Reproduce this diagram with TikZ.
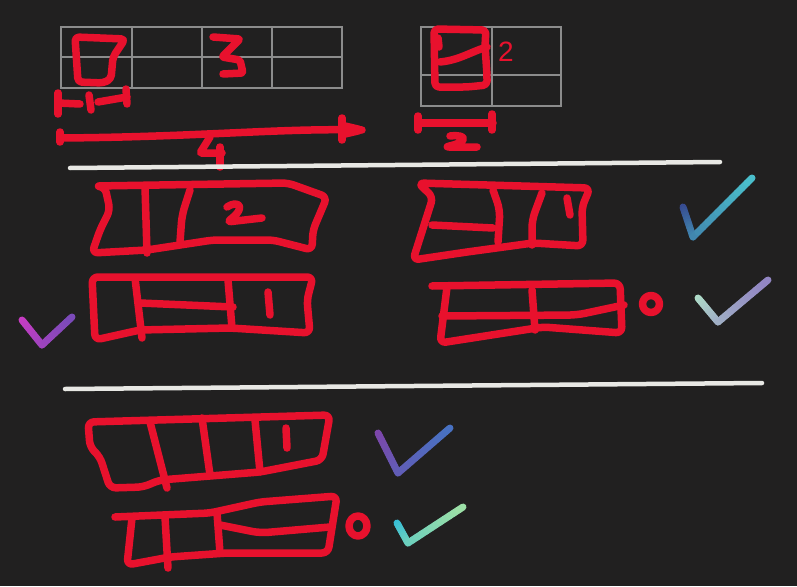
\documentclass[tikz,border=0pt]{standalone}
\usepackage{fontspec}
\setmainfont{Liberation Sans}
\usetikzlibrary{calc}
\definecolor{bg}{RGB}{33,32,32}
\definecolor{pen}{RGB}{232,17,45}
\definecolor{gridc}{RGB}{140,140,140}
\definecolor{chalk}{RGB}{232,232,228}
\definecolor{ca1}{RGB}{55,75,145}
\definecolor{ca2}{RGB}{75,195,205}
\definecolor{cb1}{RGB}{175,220,200}
\definecolor{cb2}{RGB}{145,130,195}
\definecolor{cc1}{RGB}{200,60,195}
\definecolor{cc2}{RGB}{120,75,185}
\definecolor{cd1}{RGB}{125,70,170}
\definecolor{cd2}{RGB}{70,115,195}
\definecolor{ce1}{RGB}{55,190,215}
\definecolor{ce2}{RGB}{160,225,165}
\newcommand\gradchk[5]{%
  \foreach \i in {0,...,11}{%
    \pgfmathsetmacro\ta{\i/12}%
    \pgfmathsetmacro\tb{(\i+1)/12}%
    \pgfmathtruncatemacro\pc{100-\i*50/12}%
    \draw[chk,draw=#4!\pc!#5] ($(#1)!\ta!(#2)$)--($(#1)!\tb!(#2)$);}%
  \foreach \i in {0,...,11}{%
    \pgfmathsetmacro\ta{\i/12}%
    \pgfmathsetmacro\tb{(\i+1)/12}%
    \pgfmathtruncatemacro\pc{50-\i*50/12}%
    \draw[chk,draw=#4!\pc!#5] ($(#2)!\ta!(#3)$)--($(#2)!\tb!(#3)$);}%
}
\begin{document}
\begin{tikzpicture}[x=1pt,y=-1pt,
  hand/.style={draw=pen,line width=7.5pt,line cap=round,line join=round,rounded corners=4pt},
  gridl/.style={draw=gridc,line width=1.1pt},
  rule/.style={draw=chalk,line width=4.5pt,line cap=round},
  chk/.style={line width=7pt,line cap=round}]
\fill[bg] (0,0) rectangle (797,586);
\useasboundingbox (0,0) rectangle (797,586);

% grid 1
\draw[gridl] (61,27) rectangle (342,88);
\draw[gridl] (61,57)--(342,57);
\foreach \x in {132,202,272} \draw[gridl] (\x,27)--(\x,88);
% grid 2
\draw[gridl] (421,27) rectangle (561,106);
\draw[gridl] (421,75)--(561,75);
\draw[gridl] (492,27)--(492,106);

% cell 1 shape
\draw[hand] (75,37)--(125,39)--(113,57)--(111,79)--(103,83)--(78,82)--cycle;
% 3
\draw[hand,rounded corners=2pt] (213,37)--(240,39)--(222,57)--(240,60)--(243,73)--(223,74);
% dimension 1
\draw[hand] (58,93)--(58,114);
\draw[hand] (58,103)--(80,104);
\draw[hand] (89,95)--(91,110);
\draw[hand] (98,102)--(127,97);
\draw[hand] (126,89)--(127,104);
% long arrow 4
\draw[hand] (60,132)--(60,142);
\draw[hand] (60,138) .. controls (200,137) and (280,128) .. (362,130);
\draw[hand] (342,118)--(342,140);
\draw[hand] (345,126)--(362,130)--(345,134);
\draw[hand,rounded corners=1pt] (210,137)--(200,153)--(222,153);
\draw[hand] (220,147)--(220,167);

% grid 2 shape
\draw[hand] (434,29)--(486,30)--(485,45)--(487,75)--(487,85)--(467,87)--(435,87)--cycle;
\draw[hand] (440,62) .. controls (460,60) and (470,52) .. (487,47);
\draw[hand] (438,38)--(439,47);
\node[text=pen,font=\fontsize{28}{28}\selectfont] (two) at (506,52) {2};
% dimension 2
\draw[hand] (418,123)--(493,123);
\draw[hand] (418,116)--(418,130);
\draw[hand] (492,114)--(492,130);
\draw[hand] (450,136) .. controls (468,134) and (468,142) .. (445,147) -- (477,147);

% rule 1
\draw[rule] (70,168)--(720,162);

% row 1 left
\draw[hand,rounded corners=6pt] (95,186)--(288,183)--(327,197)--(313,230)--(312,250)--(273,240)--(213,240)--(147,250)--(92,253)--(100,230)--(110,210)--(105,187)--cycle;
\draw[hand] (145,187)--(147,253);
\draw[hand,rounded corners=8pt] (190,190)--(182,215)--(180,242);
\draw[hand] (227,207) .. controls (237,200) and (248,206) .. (227,222) -- (262,218);

% row 1 right
\draw[hand,rounded corners=6pt] (418,183)--(590,188)--(582,207)--(583,246)--(533,243)--(467,252)--(413,260)--(433,197)--cycle;
\draw[hand] (432,225)--(493,228);
\draw[hand,rounded corners=8pt] (493,190)--(500,210)--(498,242);
\draw[hand,rounded corners=8pt] (542,193)--(532,220)--(532,245);
\draw[hand] (567,198)--(570,215);

% row 2 left
\draw[hand,rounded corners=6pt] (92,277)--(313,277)--(307,300)--(310,333)--(230,328)--(140,330)--(95,340)--cycle;
\draw[hand] (135,278)--(142,338);
\draw[hand] (140,303)--(233,307);
\draw[hand] (228,280)--(232,328);
\draw[hand] (268,292)--(270,315);

% row 2 right
\draw[hand,rounded corners=6pt] (432,286)--(620,283)--(622,333)--(543,327)--(440,343)--(447,287);
\draw[hand,rounded corners=8pt] (442,316)--(577,315)--(624,305);
\draw[hand] (532,290)--(535,330);
\draw[hand] (651,304) circle (8.5);

% rule 2
\draw[rule] (65,389)--(762,383);

% row 3 top
\draw[hand,rounded corners=6pt] (88,422)--(330,415)--(322,460)--(260,472)--(160,480)--(143,487)--(110,488)--(100,457)--(90,447)--cycle;
\draw[hand] (150,422)--(167,488);
\draw[hand] (202,418)--(210,475);
\draw[hand] (255,420)--(260,472);
\draw[hand] (286,428)--(287,448);

% row 3 bottom
\draw[hand,rounded corners=6pt] (115,517)--(210,513)--(260,502)--(337,496)--(328,553)--(227,553)--(170,557)--(127,565)--(132,518);
\draw[hand] (165,517)--(168,568);
\draw[hand] (217,513)--(220,553);
\draw[hand,rounded corners=8pt] (220,525)--(260,533)--(330,527);
\draw[hand] (358,526) ellipse (9 and 10);

% checkmarks
\gradchk{683,207}{693,237}{752,178}{ca1}{ca2}
\gradchk{698,298}{718,322}{768,280}{cb1}{cb2}
\gradchk{22,320}{42,345}{72,317}{cc1}{cc2}
\gradchk{378,433}{398,473}{450,428}{cd1}{cd2}
\gradchk{397,523}{408,543}{463,507}{ce1}{ce2}
\end{tikzpicture}
\end{document}
